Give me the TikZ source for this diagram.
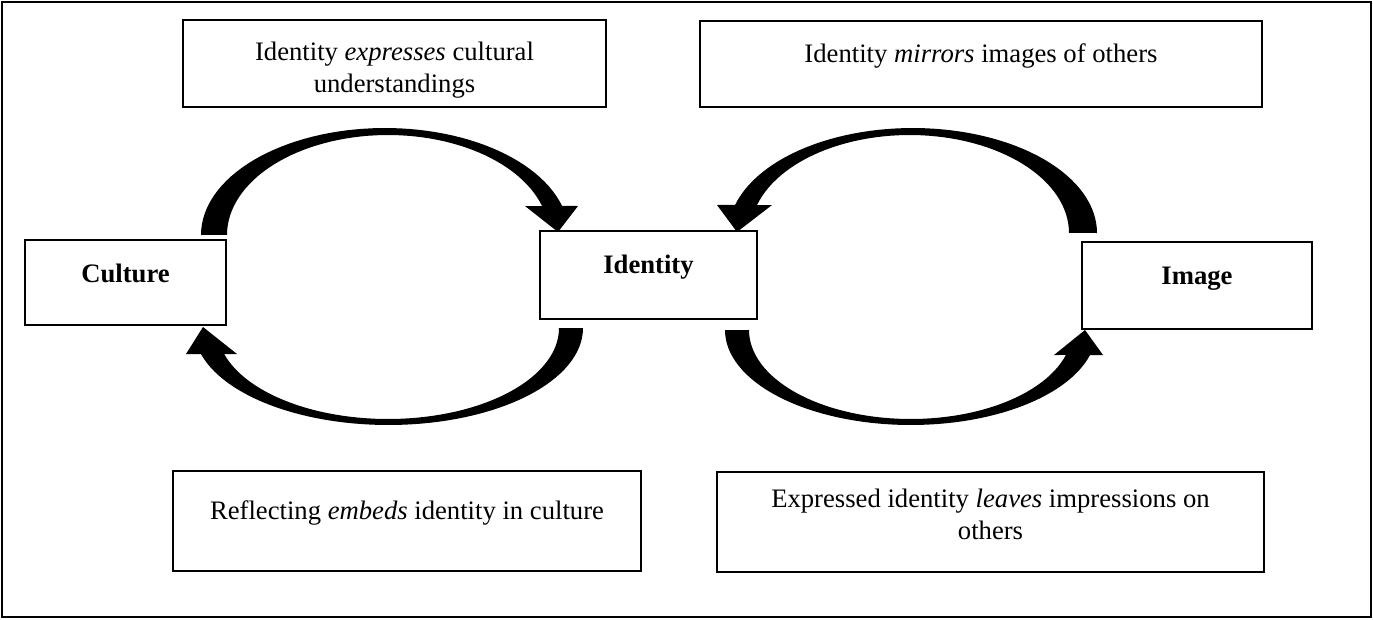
\documentclass[tikz,border=0pt]{standalone}
\usepackage{fontspec}
\setmainfont{Liberation Serif}
\begin{document}
\begin{tikzpicture}[x=0.45pt, y=-0.45pt,
  font=\fontsize{12}{14.4}\selectfont,
  box/.style={draw, line width=0.9pt, inner sep=0pt},
  txt/.style={anchor=base, inner sep=0pt},
  blockarrow/.style={fill=black}]
\useasboundingbox (0,0) rectangle (1373,619);

% outer frame
\node[draw, line width=1.1pt, inner sep=0pt, minimum width=616.05pt, minimum height=276.75pt] (frame) at (686.5,309.5) {};

% boxes
\node[box, minimum width=190.35pt, minimum height=39.15pt] (tl) at (394.5,63.5) {};
\node[box, minimum width=252.9pt, minimum height=38.7pt] (tr) at (981,64) {};
\node[box, minimum width=90.45pt, minimum height=38.25pt] (culture) at (125.5,282.5) {};
\node[box, minimum width=97.65pt, minimum height=39.6pt] (identity) at (648.5,275) {};
\node[box, minimum width=103.5pt, minimum height=39.15pt] (image) at (1197,285.5) {};
\node[box, minimum width=210.6pt, minimum height=45pt] (bl) at (407,521) {};
\node[box, minimum width=246.15pt, minimum height=45pt] (br) at (990.5,522) {};

% texts
\node[txt] (tlT) at (394.5,60) {\begin{tabular}[t]{@{}c@{}}Identity \textit{expresses} cultural\\understandings\end{tabular}};
\node[txt] (trT) at (981,62) {Identity \textit{mirrors} images of others};
\node[txt] (cultureT) at (125.5,282) {\textbf{Culture}};
\node[txt] (identityT) at (648.5,273) {\textbf{Identity}};
\node[txt] (imageT) at (1197,284) {\textbf{Image}};
\node[txt] (blT) at (407,519) {Reflecting \textit{embeds} identity in culture};
\node[txt] (brT) at (990.5,507) {\begin{tabular}[t]{@{}c@{}}Expressed identity \textit{leaves} impressions on\\others\end{tabular}};

% curved block arrows
% Culture -> Identity (top left)
\fill[blockarrow] (201,235)
  -- plot[domain=0:1, samples=60, variable=\t] ({385+184*cos(180+164.3*\t)},{235+107*sin(180+164.3*\t)})
  -- (578,206) -- (558,232) -- (525,206)
  -- plot[domain=0:1, samples=60, variable=\t] ({388+161*cos(343.14-163.14*\t)},{235+100*sin(343.14-163.14*\t)})
  -- cycle;
% Identity -> Culture (bottom left)
\fill[blockarrow] (583,328)
  -- plot[domain=0:1, samples=60, variable=\t] ({388.4+194.6*cos(164.45*\t)},{328+97*sin(164.45*\t)})
  -- (186,354) -- (203,327) -- (237,354)
  -- plot[domain=0:1, samples=60, variable=\t] ({388+171*cos(163.4-163.4*\t)},{328+91*sin(163.4-163.4*\t)})
  -- cycle;
% Image -> Identity (top right)
\fill[blockarrow] (1097,233)
  -- plot[domain=0:1, samples=60, variable=\t] ({912.7+184.3*cos(-164.53*\t)},{233+105*sin(-164.53*\t)})
  -- (717,205) -- (737,232) -- (772,205)
  -- plot[domain=0:1, samples=60, variable=\t] ({909.7+159.3*cos(-163.4+163.4*\t)},{233+98*sin(-163.4+163.4*\t)})
  -- cycle;
% Identity -> Image (bottom right)
\fill[blockarrow] (725,330)
  -- plot[domain=0:1, samples=60, variable=\t] ({910.8+185.8*cos(180-164.74*\t)},{330+95*sin(180-164.74*\t)})
  -- (1103,355) -- (1085,330) -- (1054,355)
  -- plot[domain=0:1, samples=60, variable=\t] ({910.7+161.7*cos(16.3+163.7*\t)},{330+89*sin(16.3+163.7*\t)})
  -- cycle;
\end{tikzpicture}
\end{document}
